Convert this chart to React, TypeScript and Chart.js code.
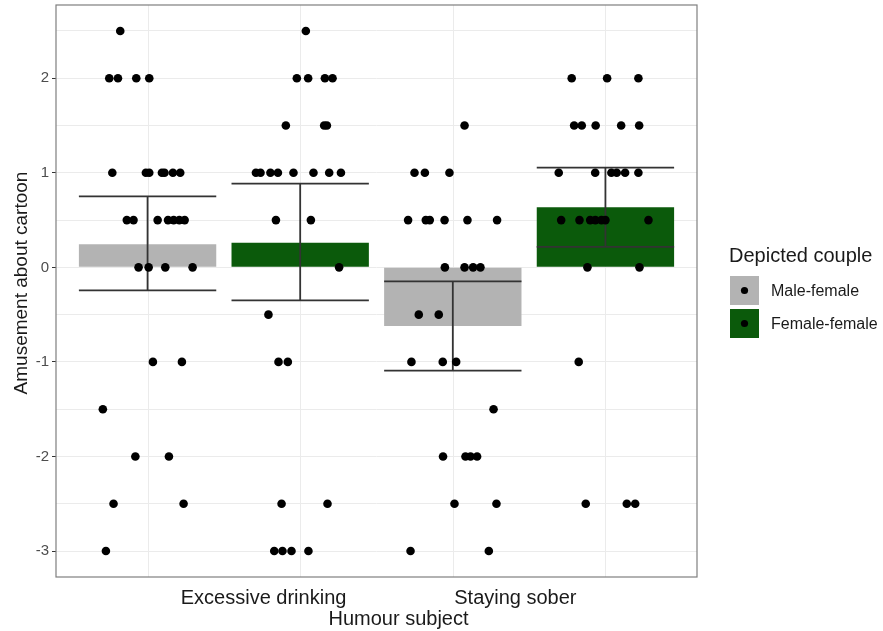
import React, { useEffect, useRef } from "react";
import { Chart, registerables } from "chart.js";

Chart.register(...registerables);

// ---------------- data ----------------
const subjects = ["Excessive drinking", "Staying sober"];
const couples = ["Male-female", "Female-female"];
const xAxisTitle = "Humour subject";
const yAxisTitle = "Amusement about cartoon";
const legendTitle = "Depicted couple";

// order: Excessive/Male-female, Excessive/Female-female, Sober/Male-female, Sober/Female-female
const meanAmusement = [0.245, 0.26, -0.621, 0.636];
const ciLower = [-0.244, -0.35, -1.093, 0.217];
const ciUpper = [0.75, 0.885, -0.149, 1.055];

const yTickValues = [-3, -2.5, -2, -1.5, -1, -0.5, 0, 0.5, 1, 1.5, 2, 2.5];

// individual responses (y) and their horizontal jitter (in bar units)
const drinkingMaleFemaleY = [2.5, 2, 2, 2, 2, 1, 1, 1, 1, 1, 1, 1, 0.5, 0.5, 0.5, 0.5, 0.5, 0.5, 0.5, 0, 0, 0, 0, -1, -1, -1.5, -2, -2, -2.5, -2.5, -3];
const drinkingMaleFemaleJitter = [-0.179, -0.251, -0.194, -0.074, 0.011, -0.231, -0.011, 0.011, 0.094, 0.111, 0.166, 0.214, -0.136, -0.092, 0.066, 0.134, 0.171, 0.208, 0.243, -0.059, 0.007, 0.116, 0.295, 0.035, 0.225, -0.293, -0.08, 0.14, -0.223, 0.236, -0.273];

const drinkingFemaleFemaleY = [2.5, 2, 2, 2, 2, 1.5, 1.5, 1.5, 1, 1, 1, 1, 1, 1, 1, 1, 0.5, 0.5, 0, -0.5, -1, -1, -2.5, -2.5, -3, -3, -3, -3];
const drinkingFemaleFemaleJitter = [0.037, -0.022, 0.052, 0.162, 0.212, -0.094, 0.157, 0.175, -0.29, -0.26, -0.195, -0.146, -0.044, 0.087, 0.19, 0.267, -0.159, 0.07, 0.255, -0.208, -0.142, -0.081, -0.122, 0.179, -0.17, -0.116, -0.057, 0.054];

const soberMaleFemaleY = [1.5, 1, 1, 1, 0.5, 0.5, 0.5, 0.5, 0.5, 0.5, 0, 0, 0, 0, -0.5, -0.5, -1, -1, -1, -1.5, -2, -2, -2, -2, -2.5, -2.5, -3, -3];
const soberMaleFemaleJitter = [0.077, -0.251, -0.183, -0.022, -0.293, -0.177, -0.151, -0.054, 0.096, 0.29, -0.052, 0.077, 0.133, 0.181, -0.223, -0.092, -0.271, -0.066, 0.022, 0.267, -0.064, 0.083, 0.116, 0.159, 0.011, 0.286, -0.277, 0.236];

const soberFemaleFemaleY = [2, 2, 2, 1.5, 1.5, 1.5, 1.5, 1.5, 1, 1, 1, 1, 1, 1, 0.5, 0.5, 0.5, 0.5, 0.5, 0.5, 0.5, 0, 0, -1, -2.5, -2.5, -2.5];
const soberFemaleFemaleJitter = [-0.221, 0.011, 0.216, -0.205, -0.155, -0.064, 0.103, 0.221, -0.306, -0.067, 0.039, 0.074, 0.129, 0.216, -0.29, -0.17, -0.1, -0.066, -0.026, 0.0, 0.282, -0.118, 0.223, -0.175, -0.129, 0.14, 0.195];

const responseY = [drinkingMaleFemaleY, drinkingFemaleFemaleY, soberMaleFemaleY, soberFemaleFemaleY];
const responseJitter = [drinkingMaleFemaleJitter, drinkingFemaleFemaleJitter, soberMaleFemaleJitter, soberFemaleFemaleJitter];

// ---------------- styles ----------------
const FONT = "'Liberation Sans', Arial, Helvetica, sans-serif";
const coupleColors = ["#b3b3b3", "#0b5a0b"];
const GRID = "#ebebeb";

export default function App() {
  const canvasRef = useRef<HTMLCanvasElement | null>(null);

  useEffect(() => {
    const canvas = canvasRef.current;
    if (!canvas) return;

    // bar positions: subject * 2 + couple + 1
    const groups: { x: number; s: number; c: number }[] = [];
    subjects.forEach((_, s) =>
      couples.forEach((_, c) => groups.push({ x: s * 2 + c + 1, s, c }))
    );

    const barData = groups.map((g, i) => ({ x: g.x, y: meanAmusement[i] }));
    const barColors = groups.map((g) => coupleColors[g.c]);

    const points: { x: number; y: number }[] = [];
    groups.forEach((g, i) => {
      responseY[i].forEach((v, k) => points.push({ x: g.x + responseJitter[i][k], y: v }));
    });

    const panelPlugin = {
      id: "panelDecor",
      beforeDatasetsDraw(chart: any) {
        const { ctx, chartArea, scales } = chart;
        ctx.save();
        ctx.strokeStyle = GRID;
        ctx.lineWidth = 1;
        groups.forEach((g) => {
          const px = Math.round(scales.x.getPixelForValue(g.x)) + 0.5;
          ctx.beginPath();
          ctx.moveTo(px, chartArea.top);
          ctx.lineTo(px, chartArea.bottom);
          ctx.stroke();
        });
        ctx.restore();
      },
      afterDatasetDraw(chart: any, args: any) {
        if (args.index !== 1) return;
        const { ctx, scales } = chart;
        const meta = chart.getDatasetMeta(1);
        ctx.save();
        ctx.strokeStyle = "#333333";
        ctx.lineWidth = 1.8;
        groups.forEach((g, i) => {
          const el = meta.data[i];
          const px = scales.x.getPixelForValue(g.x);
          const half = el.width / 2;
          const yTop = scales.y.getPixelForValue(ciUpper[i]);
          const yBot = scales.y.getPixelForValue(ciLower[i]);
          ctx.beginPath();
          ctx.moveTo(px - half, yTop);
          ctx.lineTo(px + half, yTop);
          ctx.moveTo(px, yTop);
          ctx.lineTo(px, yBot);
          ctx.moveTo(px - half, yBot);
          ctx.lineTo(px + half, yBot);
          ctx.stroke();
        });
        ctx.restore();
      },
      afterDraw(chart: any) {
        const { ctx, chartArea } = chart;
        ctx.save();
        // panel border
        ctx.strokeStyle = "#7f7f7f";
        ctx.lineWidth = 1.2;
        ctx.strokeRect(chartArea.left, chartArea.top, chartArea.right - chartArea.left, chartArea.bottom - chartArea.top);

        // axis titles
        ctx.fillStyle = "#1a1a1a";
        ctx.font = `20px ${FONT}`;
        ctx.textAlign = "center";
        ctx.textBaseline = "alphabetic";
        ctx.fillText(xAxisTitle, (chartArea.left + chartArea.right) / 2 + 22, chartArea.bottom + 48);

        ctx.save();
        ctx.translate(chartArea.left - 29, (chartArea.top + chartArea.bottom) / 2 - 8);
        ctx.rotate(-Math.PI / 2);
        ctx.font = `19px ${FONT}`;
        ctx.fillText(yAxisTitle, 0, 0);
        ctx.restore();

        // legend
        const midY = (chartArea.top + chartArea.bottom) / 2;
        const x0 = chartArea.right + 33;
        ctx.fillStyle = "#1a1a1a";
        ctx.font = `20px ${FONT}`;
        ctx.textAlign = "left";
        ctx.textBaseline = "middle";
        ctx.fillText(legendTitle, x0 - 1, midY - 35);
        const key = 29;
        couples.forEach((label, i) => {
          const top = midY - 15 + i * 33;
          ctx.fillStyle = coupleColors[i];
          ctx.fillRect(x0, top, key, key);
          ctx.fillStyle = "#000";
          ctx.beginPath();
          ctx.arc(x0 + key / 2, top + key / 2, 3.6, 0, Math.PI * 2);
          ctx.fill();
          ctx.fillStyle = "#1a1a1a";
          ctx.font = `16px ${FONT}`;
          ctx.fillText(label, x0 + 41, top + key / 2 + 1);
        });
        ctx.restore();
      },
    };

    const chart = new Chart(canvas, {
      data: {
        datasets: [
          {
            type: "scatter",
            label: "Responses",
            data: points,
            pointRadius: 4.3,
            pointBackgroundColor: "#000",
            pointBorderWidth: 0,
            order: 0,
          } as any,
          {
            type: "bar",
            label: "Mean",
            data: barData,
            backgroundColor: barColors,
            barPercentage: 0.9,
            categoryPercentage: 1,
            order: 2,
          } as any,
        ],
      },
      options: {
        animation: false,
        responsive: true,
        maintainAspectRatio: false,
        layout: { padding: { top: 5, right: 186, left: 0, bottom: 0 } },
        plugins: {
          legend: { display: false },
          tooltip: { enabled: false },
        },
        scales: {
          x: {
            type: "linear",
            offset: false,
            min: 0.4,
            max: 4.6,
            afterBuildTicks: (s: any) => {
              s.ticks = [1.76, 3.41].map((v) => ({ value: v }));
            },
            afterFit: (s: any) => {
              s.height = 54;
              s.paddingLeft = 0;
              s.paddingRight = 0;
            },
            ticks: {
              autoSkip: false,
              maxRotation: 0,
              color: "#1a1a1a",
              font: { family: FONT, size: 20 },
              padding: 9,
              callback: (_v: any, i: number) => subjects[i],
            },
            grid: { display: false, drawTicks: false, offset: false },
            border: { display: false },
            title: { display: false },
          },
          y: {
            type: "linear",
            min: -3.275,
            max: 2.775,
            afterBuildTicks: (s: any) => {
              s.ticks = yTickValues.map((v) => ({ value: v }));
            },
            afterFit: (s: any) => {
              s.width = 56;
              s.paddingTop = 0;
              s.paddingBottom = 0;
            },
            ticks: {
              color: "#4d4d4d",
              font: { family: FONT, size: 15 },
              padding: 3,
              callback: (v: any) => (Number.isInteger(v) ? String(v) : ""),
            },
            grid: {
              color: GRID,
              lineWidth: 1,
              tickLength: 4,
              tickWidth: 1,
              tickColor: (c: any) =>
                c.tick && Number.isInteger(c.tick.value) ? "#333333" : "rgba(0,0,0,0)",
            },
            border: { display: false },
            title: { display: false },
          },
        },
      },
      plugins: [panelPlugin],
    });

    return () => chart.destroy();
  }, []);

  return (
    <div style={{ position: "fixed", left: 0, top: 0, width: 883, height: 631, background: "#fff" }}>
      <canvas ref={canvasRef} />
    </div>
  );
}
